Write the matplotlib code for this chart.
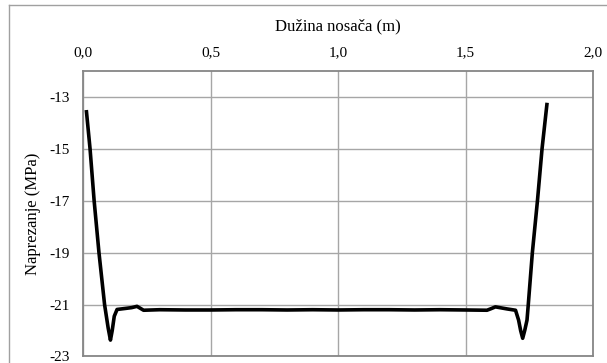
import matplotlib.pyplot as plt
from matplotlib.lines import Line2D
from matplotlib.ticker import FuncFormatter

# Read-off values (m, MPa)
duzina = [0.013, 0.027, 0.043, 0.062, 0.084, 0.098, 0.107, 0.114, 0.122, 0.133,
          0.166, 0.19, 0.211, 0.225, 0.237, 0.30, 0.40, 0.50, 0.60, 0.70, 0.80,
          0.90, 1.00, 1.10, 1.20, 1.30, 1.40, 1.50, 1.584, 1.60, 1.617, 1.640,
          1.663, 1.696, 1.708, 1.716, 1.724, 1.732, 1.741, 1.746, 1.762, 1.782,
          1.800, 1.819]
naprezanje = [-13.58, -15.0, -17.0, -19.0, -21.0, -21.9, -22.37, -22.0, -21.45, -21.19,
              -21.15, -21.12, -21.07, -21.15, -21.22, -21.2, -21.21, -21.21, -21.2, -21.2, -21.21,
              -21.2, -21.21, -21.2, -21.2, -21.21, -21.2, -21.21, -21.22, -21.16, -21.09, -21.13,
              -21.17, -21.22, -21.6, -22.0, -22.3, -22.0, -21.6, -21.0, -19.0, -17.0,
              -15.0, -13.3]
x_ticks = [0.0, 0.5, 1.0, 1.5, 2.0]
y_ticks = [-23, -21, -19, -17, -15, -13]

plt.rcParams['font.family'] = ['Liberation Serif', 'DejaVu Serif']
plt.rcParams['axes.unicode_minus'] = False

fig = plt.figure(figsize=(6.07, 3.63), dpi=100)
ax = fig.add_axes([0.137, 0.018, 0.840, 0.787])

ax.plot(duzina, naprezanje, color='black', lw=2.6, solid_joinstyle='round')

ax.set_xlim(0, 2.0)
ax.set_ylim(-23, -12)
ax.set_xticks(x_ticks)
ax.set_yticks(y_ticks)
ax.xaxis.tick_top()
ax.xaxis.set_label_position('top')
ax.xaxis.set_major_formatter(FuncFormatter(lambda v, p: f'{v:.1f}'.replace('.', ',')))
ax.tick_params(length=0, labelsize=11, pad=8)
ax.tick_params(axis='y', pad=10)
ax.grid(True, color='#a6a6a6', lw=1.0)
ax.set_axisbelow(True)
for s in ax.spines.values():
    s.set_color('#868686')
    s.set_linewidth(1.3)

ax.set_xlabel('Dužina nosača (m)', fontsize=12, labelpad=12)
ax.set_ylabel('Naprezanje (MPa)', fontsize=12, labelpad=6)

# chart-area border (left and top edges visible)
fig.add_artist(Line2D([9 / 607, 9 / 607], [0, 1 - 5 / 363], transform=fig.transFigure,
                      color='#a0a0a0', lw=1.0))
fig.add_artist(Line2D([9 / 607, 1], [1 - 5 / 363, 1 - 5 / 363], transform=fig.transFigure,
                      color='#a0a0a0', lw=1.0))

fig.savefig('out.png', dpi=100)
